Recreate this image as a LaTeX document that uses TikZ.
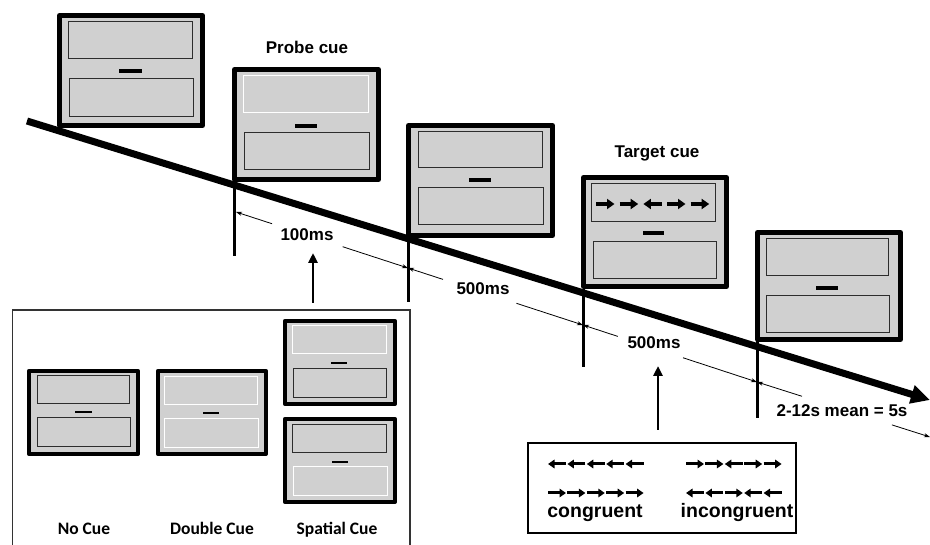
\documentclass[tikz,border=0pt]{standalone}
\usepackage{fontspec}
\setmainfont{Liberation Sans}
\newfontfamily\cuefont{Carlito}
\usetikzlibrary{arrows.meta,calc}
\definecolor{scrgray}{RGB}{208,208,208}
\definecolor{paneline}{RGB}{45,45,45}
\newcommand{\monframe}[5]{\draw[frame,line width=#5pt] ({#1+#5/2},{#2+#5/2}) rectangle ({#3-#5/2},{#4-#5/2});}
\begin{document}
\begin{tikzpicture}[x=1pt,y=-1pt,
  frame/.style={draw=black,fill=scrgray,line join=round},
  darkpane/.style={draw=paneline,line width=1pt},
  whitepane/.style={draw=white,line width=1pt},
  fixbig/.style={line width=3.2pt},
  fixsmall/.style={line width=2.8pt},
  tickline/.style={line width=3pt},
  dimline/.style={line width=0.8pt,-{Stealth[length=6pt,width=4pt]}},
  timeline/.style={line width=7pt,-{Triangle[length=19pt,width=18pt]}},
  uparrow/.style={line width=2.5pt,-{Triangle[length=10pt,width=9pt]}},
  flkbig/.style={line width=3.8pt,-{Triangle[length=7.5pt,width=10pt]}},
  flksmall/.style={line width=3pt,-{Triangle[length=6.5pt,width=8.5pt]}},
  lab/.style={font=\bfseries\fontsize{17}{20}\selectfont,anchor=base,inner sep=0pt},
  biglab/.style={font=\bfseries\fontsize{19.5}{22}\selectfont,anchor=base,inner sep=0pt},
  cuelab/.style={font=\cuefont\bfseries\fontsize{17.5}{20}\selectfont,anchor=base,inner sep=0pt},
]
\useasboundingbox (0,0) rectangle (930,545);

% ---- monitor 1 (fixation)
\monframe{57}{13}{205}{128}{5}
\draw[darkpane] (68,22) rectangle (192,59);
\draw[darkpane] (69,79) rectangle (193,117);
\draw[fixbig] (119,71) -- (142,71);

% ---- monitor 2 (probe cue)
\monframe{232}{67}{381}{182}{5}
\draw[whitepane] (243,76) rectangle (368,113);
\draw[darkpane] (244,133) rectangle (369,170);
\draw[fixbig] (295,126) -- (317,126);

% ---- monitor 3
\monframe{406}{123}{555}{238}{5}
\draw[darkpane] (418,132) rectangle (542,168);
\draw[darkpane] (418,188) rectangle (543,225);
\draw[fixbig] (469,180) -- (491,180);

% ---- monitor 4 (target cue)
\monframe{581}{175}{729}{289}{5}
\draw[darkpane] (591,184) rectangle (715,222);
\draw[darkpane] (593,242) rectangle (716,279);
\draw[fixbig] (643,233) -- (664,233);
\draw[flkbig] (596,204) -- ++(18.5,0);
\draw[flkbig] (619.7,204) -- ++(18.5,0);
\draw[flkbig] (661.9,204) -- ++(-18.5,0);
\draw[flkbig] (667,204) -- ++(18.5,0);
\draw[flkbig] (690.7,204) -- ++(18.5,0);

% ---- monitor 5
\monframe{755}{230}{903}{342}{5}
\draw[darkpane] (766,239) rectangle (888,276);
\draw[darkpane] (766,296) rectangle (889,333);
\draw[fixbig] (816,288) -- (838,288);

% ---- ticks
\coordinate (t1a) at (234.5,182); \coordinate (t1b) at (234.5,256);
\coordinate (t2a) at (408.5,237); \coordinate (t2b) at (408.5,302);
\coordinate (t3a) at (583,289);   \coordinate (t3b) at (583,367);
\coordinate (t4a) at (757,341);   \coordinate (t4b) at (757,418);
\draw[tickline] (t1a) -- (t1b);
\draw[tickline] (t2a) -- (t2b);
\draw[tickline] (t3a) -- (t3b);
\draw[tickline] (t4a) -- (t4b);

% ---- timeline
\coordinate (tl0) at (27,121);
\coordinate (tl1) at (930,400);
\draw[timeline] (tl0) -- (tl1);

% ---- interval dimension lines
\coordinate (da) at (236,212);
\coordinate (db) at (408,268);
\coordinate (dc) at (583,325);
\coordinate (dd) at (757,382);
\coordinate (de) at (930,437);
\draw[dimline] ($(da)!0.21!(db)$) -- (da);
\draw[dimline] ($(da)!0.62!(db)$) -- (db);
\draw[dimline] ($(db)!0.2!(dc)$) -- (db);
\draw[dimline] ($(db)!0.62!(dc)$) -- (dc);
\draw[dimline] ($(dc)!0.2!(dd)$) -- (dc);
\draw[dimline] ($(dc)!0.575!(dd)$) -- (dd);
\draw[dimline] ($(dd)!0.26!(de)$) -- (dd);
\draw[dimline] ($(dd)!0.78!(de)$) -- (de);

% ---- labels
\node[lab] (probe) at (307,54) {Probe cue};
\node[lab] (target) at (657,158) {Target cue};
\node[lab] (int1) at (307,241) {100ms};
\node[lab] (int2) at (483,295) {500ms};
\node[lab] (int3) at (654,349) {500ms};
\node[lab] (int4) at (842,417) {2-12s mean = 5s};

% ---- cue condition box
\coordinate (cb1) at (12.5,548);
\coordinate (cb2) at (12.5,310);
\coordinate (cb3) at (410,310);
\coordinate (cb4) at (410,548);
\draw[line width=1.2pt,draw=black!80] (cb1) -- (cb2) -- (cb3) -- (cb4);
\coordinate (cueup0) at (313,303);
\coordinate (cueup1) at (313,253);
\draw[uparrow] (cueup0) -- (cueup1);

% no cue
\monframe{27}{369}{140}{456}{3.8}
\draw[darkpane] (37,376) rectangle (129,404);
\draw[darkpane] (37,418) rectangle (130,447);
\draw[fixsmall] (75,412) -- (92,412);
% double cue
\monframe{156}{369}{268}{456}{3.8}
\draw[whitepane] (164,377) rectangle (257,405);
\draw[whitepane] (164,419) rectangle (258,448);
\draw[fixsmall] (203,413) -- (219,413);
% spatial cue top
\monframe{283}{319}{397}{406}{3.8}
\draw[whitepane] (292,326) rectangle (386,354);
\draw[darkpane] (293,369) rectangle (386,398);
\draw[fixsmall] (331,363) -- (347,363);
% spatial cue bottom
\monframe{283}{417}{397}{504}{3.8}
\draw[darkpane] (292,425) rectangle (386,453);
\draw[whitepane] (293,467) rectangle (387,496);
\draw[fixsmall] (332,462) -- (348,462);

\node[cuelab] (nocue) at (84,534) {No Cue};
\node[cuelab] (dblcue) at (212,534) {Double Cue};
\node[cuelab] (spcue) at (337,534) {Spatial Cue};

% ---- flanker box
\node[draw,line width=2pt,minimum width=268pt,minimum height=90pt,inner sep=0pt] (flbox) at (662,488) {};
\coordinate (flup0) at (658,430);
\coordinate (flup1) at (658,366);
\draw[uparrow] (flup0) -- (flup1);

% row 1 left: all left
\foreach \i in {0,...,4} {\draw[flksmall] ({548+19.4*\i+18},464) -- ++(-18,0);}
% row 1 right: -> -> <- -> ->
\draw[flksmall] (686,464) -- ++(18,0);
\draw[flksmall] (705.4,464) -- ++(18,0);
\draw[flksmall] (742.8,464) -- ++(-18,0);
\draw[flksmall] (744.2,464) -- ++(18,0);
\draw[flksmall] (763.6,464) -- ++(18,0);
% row 2 left: all right
\foreach \i in {0,...,4} {\draw[flksmall] ({548+19.4*\i},493) -- ++(18,0);}
% row 2 right: <- <- -> <- <-
\draw[flksmall] (704,493) -- ++(-18,0);
\draw[flksmall] (723.4,493) -- ++(-18,0);
\draw[flksmall] (724.8,493) -- ++(18,0);
\draw[flksmall] (762.2,493) -- ++(-18,0);
\draw[flksmall] (781.6,493) -- ++(-18,0);

\node[biglab] (cong) at (595,518) {congruent};
\node[biglab] (incong) at (737,518) {incongruent};
\end{tikzpicture}
\end{document}
